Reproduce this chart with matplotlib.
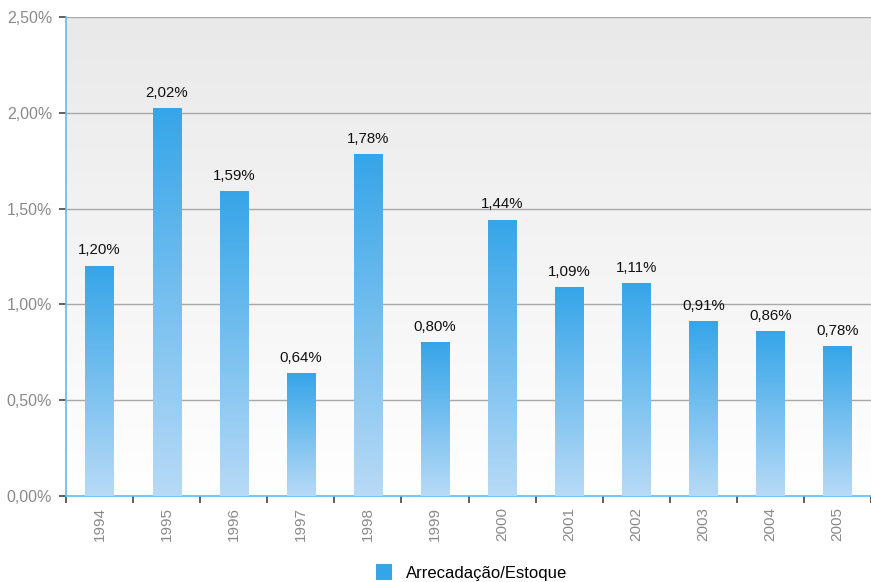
import numpy as np
import matplotlib.pyplot as plt
from matplotlib.colors import LinearSegmentedColormap
from matplotlib.patches import Rectangle

plt.rcParams['font.family'] = ['Liberation Sans', 'DejaVu Sans']

# data
years = ['1994', '1995', '1996', '1997', '1998', '1999',
         '2000', '2001', '2002', '2003', '2004', '2005']
ratio = [1.20, 2.02, 1.59, 0.64, 1.78, 0.80, 1.44, 1.09, 1.11, 0.91, 0.86, 0.78]
series_name = 'Arrecadação/Estoque'

fig = plt.figure(figsize=(8.71, 5.82), dpi=100)
ax = fig.add_axes([66 / 871, 86 / 582, 805 / 871, 479 / 582])

n = len(years)

# background gradient (gray at top -> white at bottom)
bg = LinearSegmentedColormap.from_list('bg', ['#ffffff', '#e9e9e9'])
grad = np.linspace(0, 1, 256).reshape(-1, 1)
ax.imshow(grad, cmap=bg, extent=[0, n, 0, 2.5], origin='lower',
          aspect='auto', zorder=0)

# bars with vertical gradient
bar_cmap = LinearSegmentedColormap.from_list('bar', ['#b8daf6', '#36a5e8'])
w = 0.42
for i, v in enumerate(ratio):
    x0 = i + 0.5 - w / 2
    g = np.linspace(0, 1, 256).reshape(-1, 1)
    ax.imshow(g, cmap=bar_cmap, extent=[x0, x0 + w, 0, v], origin='lower',
              aspect='auto', zorder=3)
    ax.text(i + 0.5, v + 0.045, f'{v:.2f}%'.replace('.', ','), ha='center',
            va='bottom', fontsize=10.8, color='#111111', zorder=4)

ax.set_xlim(0, n)
ax.set_ylim(0, 2.5)

# grid
yt = np.arange(0, 2.51, 0.5)
for y in yt[1:]:
    ax.axhline(y, color='#a8a8a8', lw=1, zorder=1)

ax.set_yticks(yt)
ax.set_yticklabels([f'{y:.2f}%'.replace('.', ',') for y in yt])
ax.set_xticks(np.arange(0, n + 1), minor=False)
ax.set_xticklabels([])
ax.set_xticks(np.arange(n) + 0.5, minor=True)
ax.set_xticklabels(years, minor=True, rotation=90)
ax.tick_params(axis='x', which='minor', length=0, pad=8, labelsize=11,
               labelcolor='#8a8a8a')
ax.tick_params(axis='x', which='major', length=5, width=1.2, color='#444444')
ax.tick_params(axis='y', length=5, width=1.2, color='#444444',
               labelsize=11.5, labelcolor='#8a8a8a', pad=5)

for s in ['top', 'right']:
    ax.spines[s].set_visible(False)
for s in ['left', 'bottom']:
    ax.spines[s].set_color('#5bbcf0')
    ax.spines[s].set_linewidth(1.2)

# legend
handle = Rectangle((0, 0), 1, 1, facecolor='#36a5e8')
fig.legend([handle], [series_name], loc='lower center',
           bbox_to_anchor=(0.541, -0.024), frameon=False, fontsize=12,
           handlelength=1.0, handleheight=1.1, handletextpad=0.8)

fig.savefig('out.png', dpi=100)
